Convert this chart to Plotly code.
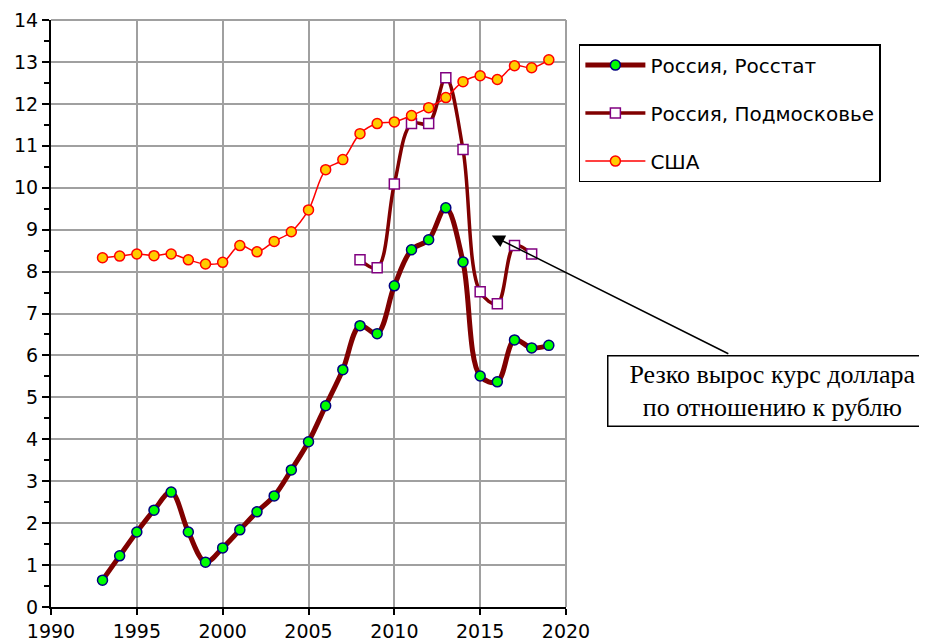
import plotly.graph_objects as go

years_rosstat = list(range(1993, 2020))
rosstat = [0.64, 1.22, 1.79, 2.31, 2.74, 1.79, 1.07, 1.41, 1.84, 2.27, 2.65, 3.27,
           3.94, 4.80, 5.66, 6.71, 6.52, 7.66, 8.52, 8.76, 9.52, 8.23, 5.51, 5.37,
           6.37, 6.18, 6.24]

years_podm = list(range(2008, 2019))
podm = [8.28, 8.09, 10.09, 11.53, 11.53, 12.62, 10.91, 7.52, 7.23, 8.62, 8.42]

years_usa = list(range(1993, 2020))
usa = [8.33, 8.37, 8.42, 8.38, 8.42, 8.28, 8.18, 8.22, 8.62, 8.47, 8.72, 8.95,
       9.47, 10.43, 10.67, 11.29, 11.53, 11.57, 11.72, 11.91, 12.15, 12.53, 12.67,
       12.58, 12.91, 12.86, 13.05]

names = ["Россия, Росстат", "Россия, Подмосковье", "США"]
note_text = "Резко вырос курс доллара<br>по отношению к рублю"

fig = go.Figure()
fig.add_trace(go.Scatter(
    x=years_rosstat, y=rosstat, name=names[0], mode="lines+markers",
    line=dict(color="#800000", width=5, shape="spline", smoothing=1),
    marker=dict(symbol="circle", size=10, color="#00FF00",
                line=dict(color="#000080", width=1.5)),
    legendgroup="a"))
fig.add_trace(go.Scatter(
    x=years_podm, y=podm, name=names[1], mode="lines+markers",
    line=dict(color="#800000", width=3.5, shape="spline", smoothing=1),
    marker=dict(symbol="square", size=10, color="#FFFFFF",
                line=dict(color="#800080", width=1.5)),
    legendgroup="b"))
fig.add_trace(go.Scatter(
    x=years_usa, y=usa, name=names[2], mode="lines+markers",
    line=dict(color="#FF0000", width=1.5, shape="spline", smoothing=1),
    marker=dict(symbol="circle", size=10, color="#FFCC00",
                line=dict(color="#FF0000", width=1.5)),
    legendgroup="c"))

grid_col = "#A0A0A0"
fig.update_layout(
    width=919, height=634,
    margin=dict(l=43, r=361, t=12, b=35, autoexpand=False),
    paper_bgcolor="white", plot_bgcolor="white",
    font=dict(family="DejaVu Sans, Arial, sans-serif", size=19, color="black"),
    showlegend=True,
    legend=dict(x=1.025, y=0.959, xanchor="left", yanchor="top",
                bgcolor="white", bordercolor="black", borderwidth=1.5,
                font=dict(size=20), itemwidth=60, tracegroupgap=19,
                traceorder="grouped"),
    xaxis=dict(range=[1990, 2020], dtick=5, tick0=1990, automargin=False,
               showgrid=True, gridcolor=grid_col, gridwidth=1.5,
               showline=True, linecolor="black", linewidth=2,
               ticks="outside", ticklen=6, tickwidth=2, tickcolor="black",
               zeroline=False),
    yaxis=dict(range=[0, 14], dtick=1, tick0=0, automargin=False,
               showgrid=True, gridcolor=grid_col, gridwidth=1.5,
               showline=True, linecolor="black", linewidth=2,
               ticks="outside", ticklen=7, tickwidth=2, tickcolor="black",
               minor=dict(dtick=0.5, ticks="outside", ticklen=5, tickwidth=1.5,
                          tickcolor="black", showgrid=False),
               zeroline=False),
    shapes=[
        dict(type="line", xref="paper", yref="paper", x0=0, x1=1, y0=1, y1=1,
             line=dict(color=grid_col, width=2)),
        dict(type="line", xref="paper", yref="paper", x0=1, x1=1, y0=0, y1=1,
             line=dict(color=grid_col, width=2)),
    ],
    annotations=[
        dict(x=2015.68, y=8.86, xref="x", yref="y", text="", showarrow=True,
             ax=238, ay=119, arrowhead=2, arrowsize=1.7, arrowwidth=1.5,
             arrowcolor="black"),
        dict(x=1.401, y=0.368, xref="paper", yref="paper", text=note_text,
             showarrow=False, xanchor="center", yanchor="middle",
             font=dict(family="Liberation Serif, Times New Roman, serif", size=26,
                       color="black"),
             bgcolor="white", bordercolor="black", borderwidth=1.5,
             borderpad=3, width=322, align="center"),
    ],
)

fig.write_html("out.html")
